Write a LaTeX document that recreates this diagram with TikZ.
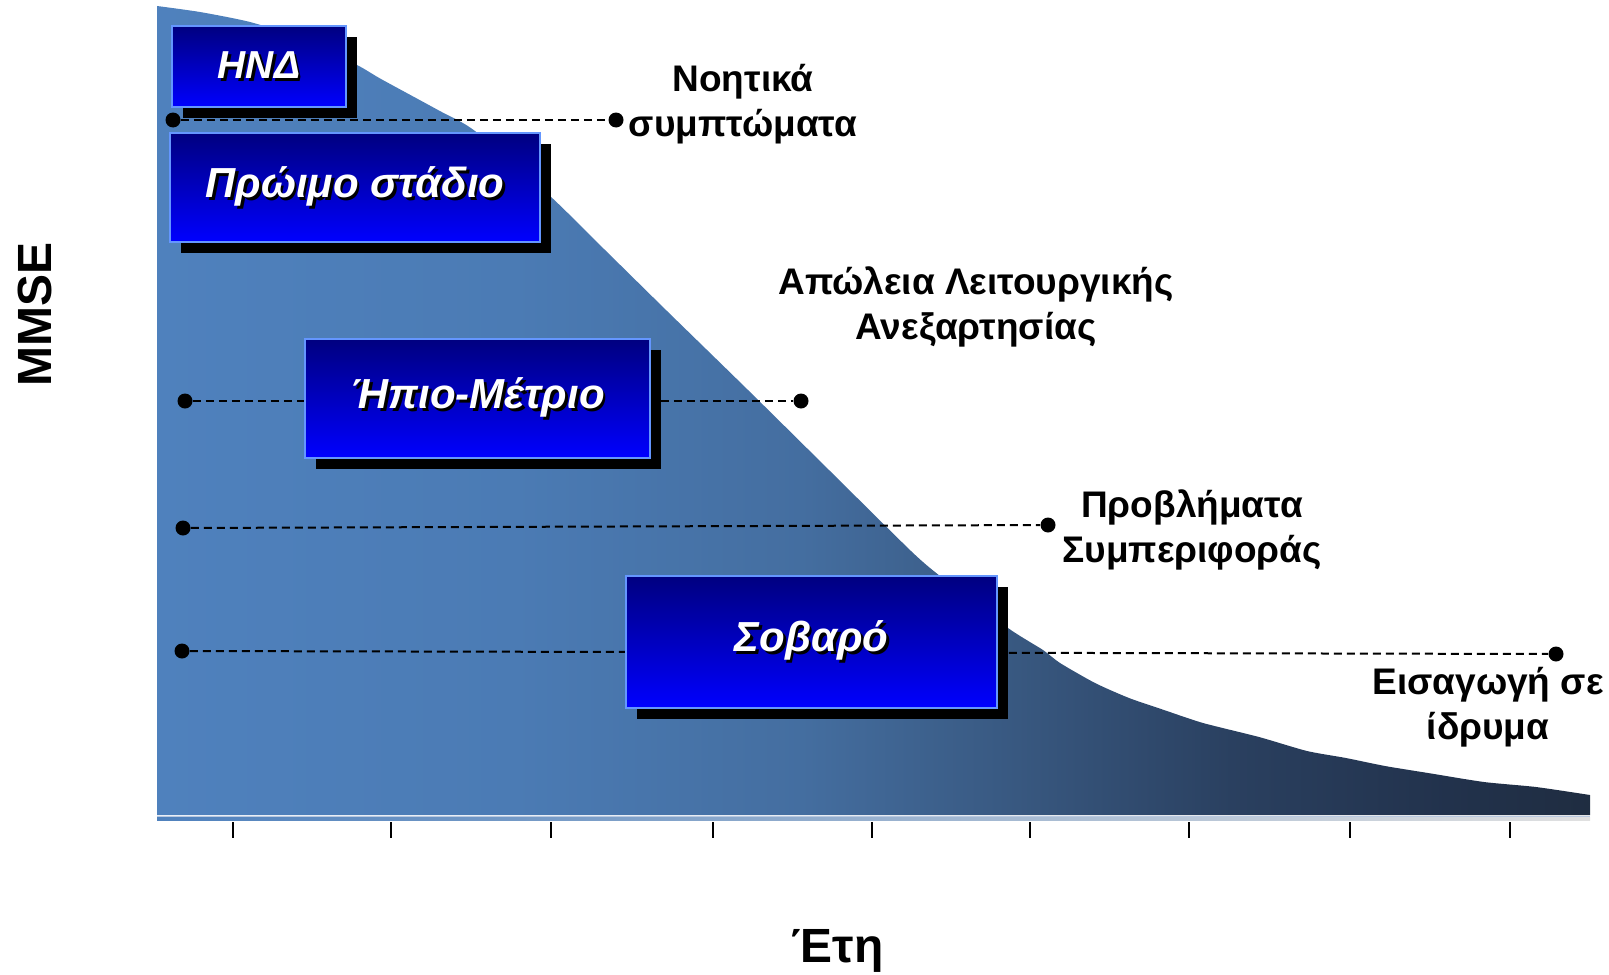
\documentclass[tikz,border=0pt]{standalone}
\usepackage{fontspec}
\setmainfont{Liberation Sans}
\usepackage{xcolor}
\usepackage{tikz}
\usetikzlibrary{shadows}
\usetikzlibrary{calc}

\definecolor{stagetop}{RGB}{0,0,128}
\definecolor{stagebot}{RGB}{0,0,255}
\definecolor{stageedge}{RGB}{100,150,255}
\definecolor{areaA}{RGB}{79,129,189}
\definecolor{areaedge}{RGB}{184,200,224}

\pgfdeclarehorizontalshading{mmsearea}{100bp}{rgb(0bp)=(0.310,0.506,0.741); rgb(25bp)=(0.310,0.506,0.741); rgb(37.5bp)=(0.294,0.482,0.706); rgb(47.5bp)=(0.267,0.431,0.627); rgb(55bp)=(0.220,0.345,0.502); rgb(62.5bp)=(0.165,0.251,0.376); rgb(70bp)=(0.133,0.196,0.298); rgb(75bp)=(0.122,0.176,0.255); rgb(100bp)=(0.122,0.176,0.255)}

\newcommand{\stagetext}[1]{\rlap{\hspace{1.4pt}\raisebox{-1.4pt}{\color{black}#1}}{\color{white}#1}}

\begin{document}
\begin{tikzpicture}[x=0.5pt, y=-0.5pt]
        \tikzstyle{stage} = [draw=stageedge, line width=1pt, top color=stagetop, bottom color=stagebot, inner sep=0pt, font=\fontsize{21}{25}\selectfont\bfseries\itshape, general shadow={fill=black, shadow xshift=5.5pt, shadow yshift=-5.5pt}]
        \tikzstyle{dot} = [circle, fill=black, minimum size=7.5pt, inner sep=0pt]
        \tikzstyle{note} = [align=center, inner sep=0pt, font=\fontsize{18.5}{22.5}\selectfont\bfseries]
        \tikzstyle{axislabel} = [inner sep=0pt, font=\fontsize{24}{28}\selectfont\bfseries]
        \tikzstyle{dashline} = [black, line width=1pt, dash pattern=on 4pt off 2.5pt]

        \useasboundingbox (0,0) rectangle (1609,974);

        % MMSE decline
        \shade[shading=mmsearea] (157,815) -- plot[smooth, tension=0.4] coordinates {(157,6) (200,12) (250,22) (300,38) (357,65) (381,79) (438,110) (475,131) (550,196) (605,250) (667,311) (748,390) (830,471) (911,551) (940,576) (1008,628) (1043,650) (1060,663) (1095,683) (1129,698) (1164,710) (1203,723) (1259,737) (1307,751) (1346,758) (1385,766) (1428,773) (1484,782) (1536,787) (1590,795)} -- (1590,815) -- cycle;
        \draw[areaedge, line width=0.5pt] (157,816) -- (1590,816);
        \shade[left color=areaA, right color=black!12] (157,817) rectangle (1590,820);
        \foreach \x in {233,391,551,713,872,1030,1189,1350,1510}
                \draw[line width=1pt] (\x,822) -- (\x,838);

        \foreach \i/\xa/\ya/\xb/\yb in {1/173/120/616/120, 2/185/401/801/401, 3/183/528/1048/525, 4/182/651/1556/654}
        {
                \node[dot] (l\i) at (\xa,\ya) {};
                \node[dot] (r\i) at (\xb,\yb) {};
                \draw[dashline] (l\i) -- (r\i);
        }

        \node[stage, minimum width=87pt, minimum height=40.5pt, font=\fontsize{19.5}{23}\selectfont\bfseries\itshape] (hnd) at (259,66.5) {\stagetext{ΗΝΔ}};
        \node[stage, minimum width=185pt, minimum height=54.5pt] (early) at (355,187.5) {\stagetext{Πρώιμο στάδιο}};
        \node[stage, minimum width=172.5pt, minimum height=59.5pt] (mild) at (477.5,398.5) {\stagetext{Ήπιο-Μέτριο}};
        \node[stage, minimum width=185.5pt, minimum height=66pt] (severe) at (811.5,642) {\stagetext{Σοβαρό}};

        \node[note] (cog) at (743,104.5) {Νοητικά\\συμπτώματα};
        \node[note] (func) at (976,307) {Απώλεια Λειτουργικής\\Ανεξαρτησίας};
        \node[note] (behav) at (1192,530) {Προβλήματα\\Συμπεριφοράς};
        \node[note] (inst) at (1488,707) {Εισαγωγή σε\\ίδρυμα};

        \node[axislabel, rotate=90] (mmse) at (34.5,314) {MMSE};
        \node[axislabel] (years) at (837.5,951) {Έτη};
\end{tikzpicture}
\end{document}
